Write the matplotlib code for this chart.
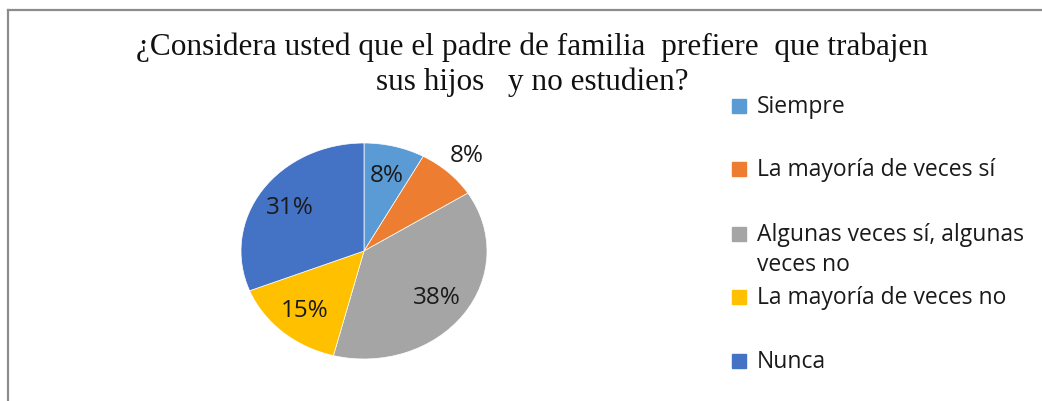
import matplotlib
matplotlib.use('Agg')
import matplotlib.pyplot as plt
from matplotlib.lines import Line2D
from matplotlib.patches import Rectangle
import numpy as np

TITLE = '¿Considera usted que el padre de familia  prefiere  que trabajen\nsus hijos   y no estudien?'
CATEGORIES = ['Siempre', 'La mayoría de veces sí', 'Algunas veces sí, algunas\nveces no',
              'La mayoría de veces no', 'Nunca']
PERCENTS = [8, 8, 38, 15, 31]
COLORS = ['#5B9BD5', '#ED7D31', '#A5A5A5', '#FFC000', '#4472C4']

W, H = 1042, 402
fig = plt.figure(figsize=(W / 100, H / 100), dpi=100)

def fx(px):
    return px / W

def fy(py):
    return 1 - py / H

# frame (only top and left edges show in the original)
fig.add_artist(Line2D([fx(8), fx(W)], [fy(11), fy(11)], color='#8c8c8c', lw=1.6))
fig.add_artist(Line2D([fx(8), fx(8)], [fy(11), fy(H)], color='#8c8c8c', lw=1.6))

fig.text(fx(532), fy(33), TITLE, ha='center', va='top', fontsize=22.5,
         family='Liberation Serif', color='#111111', linespacing=1.22)

# pie is drawn slightly wider than tall, like the source image
cx, cy, rx, ry = 364, 252, 123, 108
ax = fig.add_axes([fx(cx - rx), fy(cy + ry), 2 * rx / W, 2 * ry / H])
wedges, texts, autotexts = ax.pie(PERCENTS, colors=COLORS, startangle=90, counterclock=False,
                                  autopct='%1.0f%%', pctdistance=0.73,
                                  wedgeprops=dict(edgecolor='white', linewidth=0.5),
                                  textprops=dict(fontsize=17.5, family='Open Sans', color='#1a1a1a'))
ax.set_aspect('auto')
ax.set_xlim(-1, 1)
ax.set_ylim(-1, 1)
ax.axis('off')

# the second label sits outside its slice
w = wedges[1]
mid = np.deg2rad((w.theta1 + w.theta2) / 2)
autotexts[1].set_position((1.22 * np.cos(mid), 1.22 * np.sin(mid)))

# legend on the right
rows = [107, 170, 235, 298, 362]
for label, color, ry_ in zip(CATEGORIES, COLORS, rows):
    fig.add_artist(Rectangle((fx(732), fy(ry_ + 7)), 14 / W, 14 / H, color=color,
                             transform=fig.transFigure))
    fig.text(fx(757), fy(ry_ - 12), label, ha='left', va='top', fontsize=16.5,
             family='Open Sans', color='#1a1a1a', linespacing=1.32)

fig.savefig('out.png', dpi=100)
